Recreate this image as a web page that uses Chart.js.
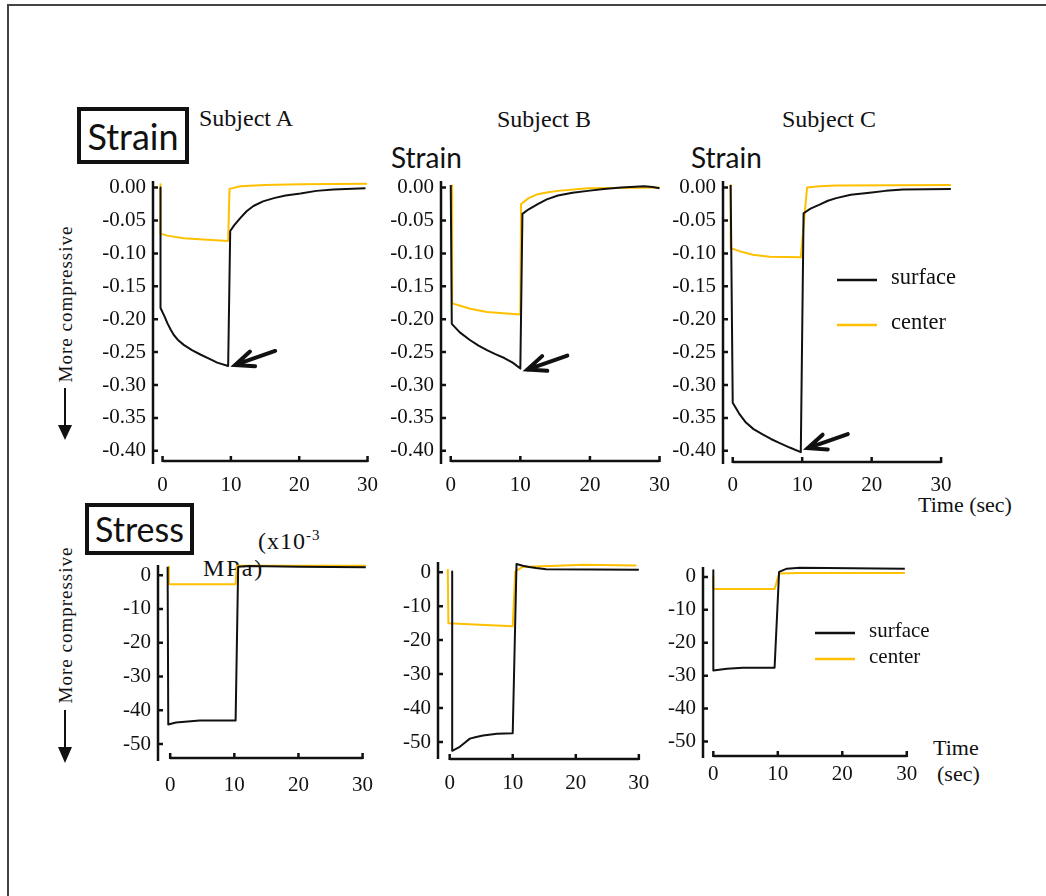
<!DOCTYPE html>
<html>
<head>
<meta charset="utf-8">
<script src="https://cdn.jsdelivr.net/npm/chart.js@4.4.1/dist/chart.umd.min.js"></script>
<style>
  body { margin: 0; width: 1046px; height: 896px; background: #fff; position: relative; overflow: hidden; font-family: "Liberation Serif", serif; color: #111; }
  .frame { position: absolute; left: 7px; top: 4px; width: 1100px; height: 1000px; border-left: 2px solid #444; border-top: 2px solid #444; }
  canvas { position: absolute; }
  .txt { position: absolute; white-space: nowrap; line-height: 1; }
  .box { position: absolute; box-sizing: border-box; border: 4px solid #111; font-family: Lato, sans-serif; display: flex; align-items: center; justify-content: center; line-height: 1; }
  .sans { font-family: Lato, sans-serif; }
  .rot { transform: translate(-50%, -50%) rotate(-90deg); }
  sup { font-size: 15px; vertical-align: 9px; }
  svg { position: absolute; left: 0; top: 0; }
</style>
</head>
<body>
<div class="frame"></div>

<div class="txt" style="left:246px;top:106px;font-size:24px;transform:translateX(-50%)">Subject A</div>
<div class="txt" style="left:544px;top:107px;font-size:24px;transform:translateX(-50%)">Subject B</div>
<div class="txt" style="left:829px;top:107px;font-size:24px;transform:translateX(-50%)">Subject C</div>

<div class="box" style="left:77px;top:107px;width:112px;height:57px;font-size:36px">Strain</div>
<div class="txt sans" style="left:391px;top:143px;font-size:28px">Strain</div>
<div class="txt sans" style="left:691px;top:143px;font-size:28px">Strain</div>

<div class="box" style="left:85px;top:503px;width:109px;height:52px;font-size:34px">Stress</div>
<div class="txt" style="left:258px;top:528px;font-size:24px;letter-spacing:1px">(x10<sup>-3</sup></div>
<div class="txt" style="left:203px;top:556px;font-size:24px;letter-spacing:2px">MPa)</div>

<div class="txt rot" style="left:65px;top:304px;font-size:19px;letter-spacing:1px">More compressive</div>
<div class="txt rot" style="left:65px;top:625px;font-size:19px;letter-spacing:1px">More compressive</div>

<div class="txt" style="left:918px;top:494px;font-size:22px">Time (sec)</div>
<div class="txt" style="left:933px;top:737px;font-size:22px">Time</div>
<div class="txt" style="left:937px;top:763px;font-size:22px">(sec)</div>

<svg width="1046" height="896">
  <line x1="65" y1="388" x2="65" y2="428" stroke="#111" stroke-width="2"/>
  <polygon points="58,425 72,425 65,440" fill="#111"/>
  <line x1="65" y1="710" x2="65" y2="750" stroke="#111" stroke-width="2"/>
  <polygon points="58,747 72,747 65,763" fill="#111"/>
</svg>

<script>
const timeTicks = [0, 10, 20, 30];
const strainTicks = [0, -0.05, -0.10, -0.15, -0.20, -0.25, -0.30, -0.35, -0.40];
const stressTicks = [0, -10, -20, -30, -40, -50];
const seriesNames = ['surface', 'center'];
const seriesColors = ['#111111', '#FFC000'];

// strain, subject A
const strainATimeSurface = [-0.3, -0.3, 0.3, 0.7, 1.2, 1.65, 2.3, 3.1, 4.3, 5.6, 6.8, 8.0, 9.6, 9.9, 10.5, 11.4, 12.3, 13.3, 14.7, 16.3, 18.0, 20.2, 22.5, 25.0, 29.7];
const strainASurface = [0.0, -0.183, -0.196, -0.206, -0.216, -0.224, -0.232, -0.239, -0.247, -0.254, -0.260, -0.266, -0.271, -0.066, -0.057, -0.046, -0.036, -0.028, -0.021, -0.016, -0.012, -0.009, -0.005, -0.003, -0.001];
const strainATimeCenter = [-0.3, -0.3, 0.7, 3.1, 6.0, 9.6, 9.8, 11.4, 15.0, 20.2, 29.9];
const strainACenter = [0.005, -0.070, -0.073, -0.077, -0.079, -0.081, -0.002, 0.002, 0.004, 0.005, 0.006];

// strain, subject B
const strainBTimeSurface = [0.0, 0.15, 1.3, 2.8, 4.0, 5.2, 6.4, 7.7, 8.9, 10.0, 10.3, 11.2, 12.5, 13.8, 15.4, 17.5, 19.7, 22.0, 24.5, 27.8, 29.0, 30.0];
const strainBSurface = [0.004, -0.207, -0.220, -0.232, -0.240, -0.247, -0.253, -0.259, -0.266, -0.275, -0.040, -0.033, -0.025, -0.018, -0.012, -0.008, -0.005, -0.002, 0.000, 0.002, 0.001, -0.001];
const strainBTimeCenter = [0.2, 0.2, 1.5, 2.8, 5.2, 7.6, 10.0, 10.1, 11.2, 12.5, 14.0, 15.4, 19.7, 30.0];
const strainBCenter = [0.003, -0.176, -0.180, -0.184, -0.189, -0.191, -0.193, -0.025, -0.016, -0.010, -0.007, -0.005, -0.001, 0.000];

// strain, subject C
const strainCTimeSurface = [-0.3, 0.0, 0.9, 1.9, 3.0, 4.3, 5.5, 6.7, 8.2, 9.8, 10.2, 11.2, 12.5, 13.7, 14.9, 17.0, 19.7, 22.0, 24.5, 31.4];
const strainCSurface = [0.004, -0.327, -0.343, -0.357, -0.367, -0.375, -0.382, -0.388, -0.395, -0.402, -0.039, -0.032, -0.026, -0.020, -0.016, -0.011, -0.008, -0.005, -0.003, -0.002];
const strainCTimeCenter = [-0.3, -0.3, 1.4, 2.9, 5.3, 9.8, 10.7, 12.5, 14.9, 31.4];
const strainCCenter = [0.004, -0.092, -0.098, -0.102, -0.105, -0.106, 0.000, 0.002, 0.003, 0.004];

// stress, subject A
const stressATimeSurface = [-0.4, -0.3, 0.9, 4.6, 10.2, 10.6, 12.3, 20.1, 30.5];
const stressASurface = [2.5, -44.2, -43.6, -43.0, -43.0, 2.5, 2.7, 2.5, 2.3];
const stressATimeCenter = [-0.2, -0.2, 10.2, 10.4, 30.5];
const stressACenter = [2.5, -2.7, -2.7, 2.8, 2.8];

// stress, subject B
const stressBTimeSurface = [0.4, 0.4, 1.6, 2.4, 3.2, 4.2, 5.3, 7.5, 10.0, 10.6, 11.6, 12.6, 13.7, 15.3, 30.0];
const stressBSurface = [0.2, -52.6, -51.4, -50.2, -49.0, -48.5, -48.1, -47.6, -47.4, 2.4, 1.9, 1.5, 1.2, 0.9, 0.7];
const stressBTimeCenter = [-0.3, -0.2, 4.8, 10.0, 10.4, 11.5, 21.3, 29.6];
const stressBCenter = [0.9, -15.0, -15.5, -15.9, 0.2, 1.5, 2.2, 2.0];

// stress, subject C
const stressCTimeSurface = [0.0, 0.0, 2.1, 4.6, 9.5, 10.2, 11.4, 13.4, 29.7];
const stressCSurface = [2.0, -28.4, -27.9, -27.6, -27.6, 1.5, 2.5, 2.8, 2.5];
const stressCTimeCenter = [0.0, 0.0, 9.5, 10.2, 13.3, 29.7];
const stressCCenter = [0.0, -3.7, -3.7, 1.0, 1.2, 1.2];

Chart.defaults.font.family = '"Liberation Serif", serif';
Chart.defaults.color = '#111';

// axis line on the left, a separate time axis below, ticks pointing inward
const offsetAxes = {
  id: 'offsetAxes',
  afterDraw(chart, args, opts) {
    const ctx = chart.ctx, a = chart.chartArea;
    const xs = chart.scales.x, ys = chart.scales.y;
    ctx.save();
    ctx.strokeStyle = '#111';
    ctx.lineWidth = 2.5;
    ctx.beginPath();
    ctx.moveTo(a.left, a.top);
    ctx.lineTo(a.left, a.bottom);
    ys.ticks.forEach(t => {
      const y = ys.getPixelForValue(t.value);
      ctx.moveTo(a.left, y);
      ctx.lineTo(a.left + 5, y);
    });
    const by = a.bottom - opts.gap;
    ctx.moveTo(xs.getPixelForValue(timeTicks[0]), by);
    ctx.lineTo(xs.getPixelForValue(timeTicks[timeTicks.length - 1]), by);
    xs.ticks.forEach(t => {
      const x = xs.getPixelForValue(t.value);
      ctx.moveTo(x, by + 1);
      ctx.lineTo(x, by - 5);
    });
    ctx.stroke();
    ctx.restore();
  }
};

// arrow pointing at the lowest surface value
const minArrow = {
  id: 'minArrow',
  afterDraw(chart, args, opts) {
    if (!opts.show) return;
    const pts = chart.data.datasets[0].data;
    let m = pts[0];
    pts.forEach(p => { if (p.y < m.y) m = p; });
    const x = chart.scales.x.getPixelForValue(m.x) + 7;
    const y = chart.scales.y.getPixelForValue(m.y) + opts.dy;
    const ang = Math.atan2(-14, 40);
    const ctx = chart.ctx;
    ctx.save();
    ctx.strokeStyle = '#111';
    ctx.lineWidth = 4;
    ctx.lineCap = 'round';
    ctx.beginPath();
    ctx.moveTo(x + 40, y - 14);
    ctx.lineTo(x, y);
    ctx.moveTo(x + 20 * Math.cos(ang - 0.4), y + 20 * Math.sin(ang - 0.4));
    ctx.lineTo(x, y);
    ctx.lineTo(x + 20 * Math.cos(ang + 0.4), y + 20 * Math.sin(ang + 0.4));
    ctx.stroke();
    ctx.restore();
  }
};

const lineLegend = {
  id: 'lineLegend',
  afterDraw(chart, args, opts) {
    if (!opts.show) return;
    const ctx = chart.ctx, a = chart.chartArea;
    ctx.save();
    ctx.font = opts.size + 'px "Liberation Serif", serif';
    ctx.textBaseline = 'middle';
    chart.data.datasets.forEach((ds, i) => {
      const x = a.left + opts.x, y = a.top + opts.y + i * opts.gap;
      ctx.strokeStyle = ds.borderColor;
      ctx.lineWidth = 2.5;
      ctx.beginPath();
      ctx.moveTo(x, y);
      ctx.lineTo(x + 40, y);
      ctx.stroke();
      ctx.fillStyle = '#111';
      ctx.fillText(ds.label, x + 54, y - 2);
    });
    ctx.restore();
  }
};

function series(t, v) {
  return t.map((x, i) => ({ x: x, y: v[i] }));
}

function panel(p) {
  const padL = 62, padT = 24, padR = 30, padB = 44;
  const canvas = document.createElement('canvas');
  canvas.width = p.w + padL + padR;
  canvas.height = p.h + padT + padB;
  canvas.style.left = (p.left - padL) + 'px';
  canvas.style.top = (p.top - padT) + 'px';
  document.body.appendChild(canvas);
  const yTicks = p.kind === 'strain' ? strainTicks : stressTicks;
  new Chart(canvas, {
    type: 'line',
    data: {
      datasets: p.data.map((d, i) => ({
        label: seriesNames[i],
        data: d,
        borderColor: seriesColors[i],
        borderWidth: 2,
        pointRadius: 0,
        tension: 0,
        borderJoinStyle: 'round',
        clip: false,
        order: i
      }))
    },
    options: {
      responsive: false,
      animation: false,
      devicePixelRatio: 1,
      layout: { padding: { top: padT, right: padR, left: 0, bottom: 0 } },
      plugins: {
        legend: { display: false },
        tooltip: { enabled: false },
        offsetAxes: { gap: p.gap },
        minArrow: { show: p.kind === 'strain', dy: p.arrowDy || 0 },
        lineLegend: p.legend || { show: false }
      },
      scales: {
        x: {
          type: 'linear',
          min: p.xMin, max: p.xMax,
          grid: { display: false, drawTicks: false },
          border: { display: false },
          afterBuildTicks: s => { s.ticks = timeTicks.map(v => ({ value: v })); },
          afterFit: s => { s.height = padB; },
          ticks: { font: { size: 21 }, padding: p.xPad, maxRotation: 0, callback: v => String(v) }
        },
        y: {
          min: p.yMin, max: p.yMax,
          grid: { display: false, drawTicks: false },
          border: { display: false },
          afterBuildTicks: s => { s.ticks = yTicks.map(v => ({ value: v })); },
          afterFit: s => { s.width = padL; },
          ticks: {
            font: { size: 21 }, padding: 7,
            callback: v => p.kind === 'strain' ? v.toFixed(2) : String(Math.round(v))
          }
        }
      }
    },
    plugins: [offsetAxes, minArrow, lineLegend]
  });
}

panel({ kind: 'strain', left: 153, top: 181, w: 220, h: 283, xMin: -1.4, xMax: 30.8, yMin: -0.42, yMax: 0.01, gap: 3, xPad: 9, arrowDy: -1,
  data: [series(strainATimeSurface, strainASurface), series(strainATimeCenter, strainACenter)] });
panel({ kind: 'strain', left: 440.5, top: 181, w: 222, h: 283, xMin: -1.4, xMax: 30.5, yMin: -0.42, yMax: 0.01, gap: 3, xPad: 9, arrowDy: 1,
  data: [series(strainBTimeSurface, strainBSurface), series(strainBTimeCenter, strainBCenter)] });
panel({ kind: 'strain', left: 723, top: 181, w: 232, h: 283, xMin: -1.4, xMax: 32, yMin: -0.42, yMax: 0.01, gap: 2, xPad: 9, arrowDy: -4,
  legend: { show: true, x: 114, y: 99, gap: 45, size: 22.5 },
  data: [series(strainCTimeSurface, strainCSurface), series(strainCTimeCenter, strainCCenter)] });

panel({ kind: 'stress', left: 158.3, top: 564.8, w: 211, h: 196.6, xMin: -1.9, xMax: 31, yMin: -55, yMax: 3, gap: 3, xPad: 12,
  data: [series(stressATimeSurface, stressASurface), series(stressATimeCenter, stressACenter)] });
panel({ kind: 'stress', left: 438.3, top: 562.1, w: 204, h: 197.2, xMin: -1.85, xMax: 30.5, yMin: -55, yMax: 3, gap: 0, xPad: 12,
  data: [series(stressBTimeSurface, stressBSurface), series(stressBTimeCenter, stressBCenter)] });
panel({ kind: 'stress', left: 703.3, top: 566.8, w: 207, h: 191.4, xMin: -1.6, xMax: 30.5, yMin: -55, yMax: 3, gap: 2, xPad: 4,
  legend: { show: true, x: 112, y: 66, gap: 26, size: 21 },
  data: [series(stressCTimeSurface, stressCSurface), series(stressCTimeCenter, stressCCenter)] });
</script>
</body>
</html>
